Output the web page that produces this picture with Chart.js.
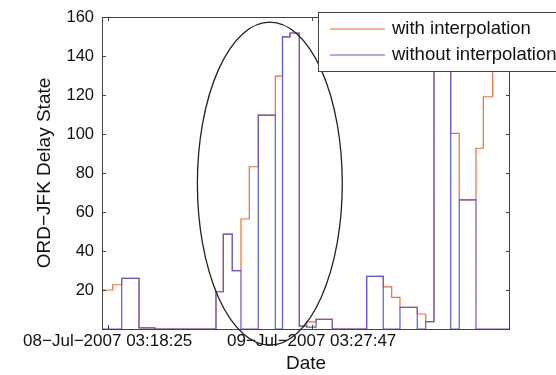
<!DOCTYPE html>
<html>
<head>
<meta charset="utf-8">
<script src="https://cdn.jsdelivr.net/npm/chart.js@4.4.1/dist/chart.umd.min.js"></script>
<style>
  body { margin: 0; background: #fff; }
  canvas { display: block; }
</style>
</head>
<body>
<canvas id="delayChart" width="556" height="375"></canvas>
<script>
// DATA  (x = hours after 08-Jul-2007 03:18:25, each value holds until the next x)
const stepHours = [-1.2, -0.62, 0.59, 1.66, 3.71, 5.60, 12.82, 13.69, 14.75, 15.78, 16.77, 17.83,
  19.85, 20.70, 21.59, 22.69, 23.56, 24.67, 26.60, 30.67, 32.63, 33.63, 34.61, 36.66, 37.66,
  38.64, 40.62, 41.63, 43.61, 44.48, 45.59, 48.5];
const withInterp = [17, 20, 22.7, 26, 0.6, 0, 19.1, 48.7, 29.9, 56.4, 83.2, 109.7,
  129.7, 149.8, 151.8, 1.5, 3.7, 4.9, 0, 27, 21.6, 16.2, 11.1, 7.7, 3.8,
  175, 100.3, 66.2, 92.7, 119.1, 145, 145];
const withoutInterp = [0, 0, 0, 26, 0.6, 0, 19.1, 48.7, 29.9, 0, 0, 109.7,
  0, 149.8, 151.8, 1.5, 1, 4.9, 0, 27, 0, 0, 11.1, 0, 3.8,
  175, 0, 66.2, 0, 0, 0, 0];
const seriesNames = ["with interpolation", "without interpolation"];
const xRange = [-0.675, 47.64];
const tickHours = [0, 24.156];
const tickLabels = ["08\u2212Jul\u22122007 03:18:25", "09\u2212Jul\u22122007 03:27:47"];
const yTicks = [20, 40, 60, 80, 100, 120, 140, 160];
// circled region (data units)
const ellipseCenter = [19.2, 74.6];
const ellipseRadius = [8.58, 82.8];

const ORANGE = "#f26b3a";
const BLUE = "#5c5cd6";
const FONT = "'Liberation Sans', Arial, sans-serif";

function toPoints(values) {
  return stepHours.map((h, i) => ({ x: h, y: values[i] }));
}

// BOX, TICKS, ELLIPSE, LEGEND
const matlabDecor = {
  id: "matlabDecor",
  afterDatasetsDraw(chart) {
    const { ctx, chartArea: a, scales } = chart;
    ctx.save();
    ctx.strokeStyle = "#444";
    ctx.lineWidth = 1;
    ctx.strokeRect(a.left + 0.5, a.top + 0.5, a.right - a.left - 1, a.bottom - a.top);
    ctx.beginPath();
    yTicks.forEach(v => {
      const y = Math.round(scales.y.getPixelForValue(v)) + 0.5;
      ctx.moveTo(a.left, y); ctx.lineTo(a.left + 4, y);
      ctx.moveTo(a.right, y); ctx.lineTo(a.right - 4, y);
    });
    tickHours.forEach(h => {
      const x = Math.round(scales.x.getPixelForValue(h)) + 0.5;
      ctx.moveTo(x, a.bottom); ctx.lineTo(x, a.bottom - 4);
      ctx.moveTo(x, a.top); ctx.lineTo(x, a.top + 4);
    });
    ctx.stroke();

    // ellipse
    const cx = scales.x.getPixelForValue(ellipseCenter[0]);
    const cy = scales.y.getPixelForValue(ellipseCenter[1]);
    const rx = scales.x.getPixelForValue(ellipseCenter[0] + ellipseRadius[0]) - cx;
    const ry = cy - scales.y.getPixelForValue(ellipseCenter[1] + ellipseRadius[1]);
    ctx.strokeStyle = "#222";
    ctx.lineWidth = 1.3;
    ctx.beginPath();
    ctx.ellipse(cx, cy, rx, ry, 0, 0, Math.PI * 2);
    ctx.stroke();

    // legend
    ctx.fillStyle = "#fff";
    ctx.fillRect(318, 12, 250, 59);
    ctx.strokeStyle = "#444";
    ctx.lineWidth = 1;
    ctx.strokeRect(318.5, 12.5, 250, 59);
    const colors = [ORANGE, BLUE];
    const rows = [29, 55];
    ctx.font = "18.5px " + FONT;
    ctx.textBaseline = "middle";
    seriesNames.forEach((name, i) => {
      ctx.strokeStyle = colors[i];
      ctx.lineWidth = 1.2;
      ctx.beginPath();
      ctx.moveTo(330, rows[i]); ctx.lineTo(385, rows[i]);
      ctx.stroke();
      ctx.fillStyle = "#111";
      ctx.fillText(name, 392, rows[i]);
    });
    ctx.restore();
  }
};

const ctx = document.getElementById("delayChart").getContext("2d");
new Chart(ctx, {
  type: "line",
  data: {
    datasets: [
      { label: seriesNames[0], data: toPoints(withInterp), borderColor: ORANGE, order: 2 },
      { label: seriesNames[1], data: toPoints(withoutInterp), borderColor: BLUE, order: 1 }
    ]
  },
  options: {
    responsive: false,
    animation: false,
    devicePixelRatio: 1,
    layout: { padding: { left: 0, right: 46, top: 17, bottom: 0 } },
    elements: {
      line: { stepped: true, borderWidth: 1.2, tension: 0, fill: false },
      point: { radius: 0 }
    },
    plugins: { legend: { display: false }, tooltip: { enabled: false } },
    scales: {
      x: {
        type: "linear",
        min: xRange[0],
        max: xRange[1],
        grid: { display: false, drawTicks: false },
        border: { display: false },
        afterBuildTicks: axis => { axis.ticks = tickHours.map(v => ({ value: v })); },
        afterFit: axis => { axis.height = 46; axis.paddingLeft = 0; axis.paddingRight = 0; },
        ticks: {
          autoSkip: false, maxRotation: 0, padding: 2, color: "#111",
          font: { family: FONT, size: 17 },
          callback: (v, i) => tickLabels[i]
        },
        title: { display: true, text: "Date", color: "#111", padding: { top: 0, bottom: 0 },
          font: { family: FONT, size: 19 } }
      },
      y: {
        min: 0,
        max: 160,
        grid: { display: false, drawTicks: false },
        border: { display: false },
        afterBuildTicks: axis => { axis.ticks = yTicks.map(v => ({ value: v })); },
        afterFit: axis => { axis.width = 102; axis.paddingTop = 0; axis.paddingBottom = 0; },
        ticks: { padding: 8, color: "#111", font: { family: FONT, size: 16.5 } },
        title: { display: true, text: "ORD\u2212JFK Delay State", color: "#111",
          padding: { top: 33, bottom: 0 }, font: { family: FONT, size: 19 } }
      }
    }
  },
  plugins: [matlabDecor]
});
</script>
</body>
</html>
